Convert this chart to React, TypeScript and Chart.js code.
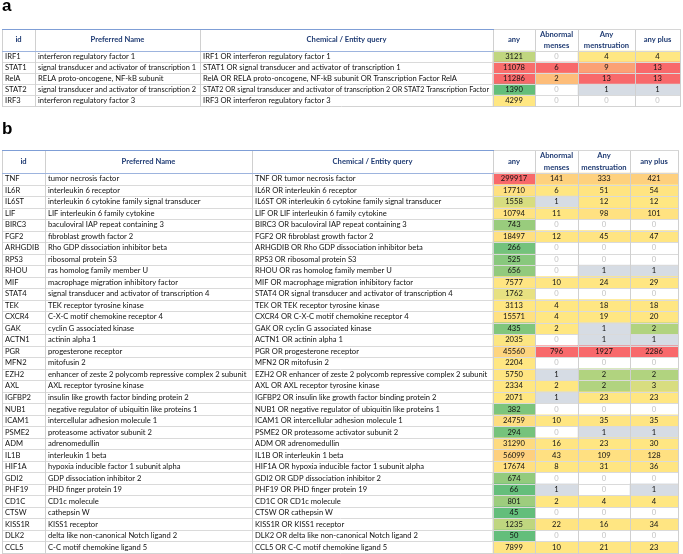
import React, { useEffect, useRef } from 'react';
import { Chart, registerables } from 'chart.js';

Chart.register(...registerables);

// ---------------- Data: table a ----------------
const idsA = ['IRF1', 'STAT1', 'RelA', 'STAT2', 'IRF3'];
const namesA = [
  'interferon regulatory factor 1',
  'signal transducer and activator of transcription 1',
  'RELA proto-oncogene, NF-kB subunit',
  'signal transducer and activator of transcription 2',
  'interferon regulatory factor 3',
];
const queriesA = [
  'IRF1 OR interferon regulatory factor 1',
  'STAT1 OR signal transducer and activator of transcription 1',
  'RelA OR RELA proto-oncogene, NF-kB subunit OR Transcription Factor RelA',
  'STAT2 OR signal transducer and activator of transcription 2 OR STAT2 Transcription Factor',
  'IRF3 OR interferon regulatory factor 3',
];
const anyA = [3121, 11078, 11286, 1390, 4299];
const abnormalMensesA = [0, 6, 2, 0, 0];
const anyMenstruationA = [4, 9, 13, 1, 0];
const anyPlusA = [4, 13, 13, 1, 0];

// ---------------- Data: table b ----------------
const idsB = [
  'TNF', 'IL6R', 'IL6ST', 'LIF', 'BIRC3', 'FGF2', 'ARHGDIB', 'RPS3', 'RHOU', 'MIF', 'STAT4',
  'TEK', 'CXCR4', 'GAK', 'ACTN1', 'PGR', 'MFN2', 'EZH2', 'AXL', 'IGFBP2', 'NUB1', 'ICAM1',
  'PSME2', 'ADM', 'IL1B', 'HIF1A', 'GDI2', 'PHF19', 'CD1C', 'CTSW', 'KISS1R', 'DLK2', 'CCL5',
];
const namesB = [
  'tumor necrosis factor',
  'interleukin 6 receptor',
  'interleukin 6 cytokine family signal transducer',
  'LIF interleukin 6 family cytokine',
  'baculoviral IAP repeat containing 3',
  'fibroblast growth factor 2',
  'Rho GDP dissociation inhibitor beta',
  'ribosomal protein S3',
  'ras homolog family member U',
  'macrophage migration inhibitory factor',
  'signal transducer and activator of transcription 4',
  'TEK receptor tyrosine kinase',
  'C-X-C motif chemokine receptor 4',
  'cyclin G associated kinase',
  'actinin alpha 1',
  'progesterone receptor',
  'mitofusin 2',
  'enhancer of zeste 2 polycomb repressive complex 2 subunit',
  'AXL receptor tyrosine kinase',
  'insulin like growth factor binding protein 2',
  'negative regulator of ubiquitin like proteins 1',
  'intercellular adhesion molecule 1',
  'proteasome activator subunit 2',
  'adrenomedullin',
  'interleukin 1 beta',
  'hypoxia inducible factor 1 subunit alpha',
  'GDP dissociation inhibitor 2',
  'PHD finger protein 19',
  'CD1c molecule',
  'cathepsin W',
  'KISS1 receptor',
  'delta like non-canonical Notch ligand 2',
  'C-C motif chemokine ligand 5',
];
const queriesB = idsB.map((id, i) => `${id} OR ${namesB[i]}`);
const anyB = [
  299917, 17710, 1558, 10794, 743, 18497, 266, 525, 656, 7577, 1762,
  3113, 15571, 435, 2035, 45560, 2204, 5750, 2334, 2071, 382, 24759,
  294, 31290, 56099, 17674, 674, 66, 801, 45, 1235, 50, 7899,
];
const abnormalMensesB = [
  141, 6, 1, 11, 0, 12, 0, 0, 0, 10, 0,
  4, 4, 2, 0, 796, 0, 1, 2, 1, 0, 10,
  0, 16, 43, 8, 0, 1, 2, 0, 22, 0, 10,
];
const anyMenstruationB = [
  333, 51, 12, 98, 0, 45, 0, 0, 1, 24, 0,
  18, 19, 1, 1, 1927, 0, 2, 2, 23, 0, 35,
  1, 23, 109, 31, 0, 0, 4, 0, 16, 0, 21,
];
const anyPlusB = [
  421, 54, 12, 101, 0, 47, 0, 0, 1, 29, 0,
  18, 20, 2, 1, 2286, 0, 2, 3, 23, 0, 35,
  1, 30, 128, 36, 0, 1, 4, 0, 34, 0, 23,
];

const columnHeaders = [
  ['id'],
  ['Preferred Name'],
  ['Chemical / Entity query'],
  ['any'],
  ['Abnormal', 'menses'],
  ['Any', 'menstruation'],
  ['any plus'],
];

// ---------------- Layout / style ----------------
const HEADER_UNITS = 2;
const TEXT_FONT = 'Lato, "Noto Sans", sans-serif';
const TEXT_SIZE = 7.6;
const HEADER_COLOR = '#1F3B73';
const GREEN = [99, 190, 123];
const YELLOW = [255, 231, 130];
const RED = [248, 105, 107];
const ONE_FILL = '#D6DCE4';
const ZERO_TEXT = '#C4C4C4';

type TableDef = {
  title: string;
  ids: string[];
  names: string[];
  queries: string[];
  counts: number[][];
  edges: number[];
};

const tableA: TableDef = {
  title: 'a',
  ids: idsA,
  names: namesA,
  queries: queriesA,
  counts: [anyA, abnormalMensesA, anyMenstruationA, anyPlusA],
  edges: [0, 33, 198, 491, 533, 576, 633, 678],
};
const tableB: TableDef = {
  title: 'b',
  ids: idsB,
  names: namesB,
  queries: queriesB,
  counts: [anyB, abnormalMensesB, anyMenstruationB, anyPlusB],
  edges: [0, 43, 250, 491, 533, 576, 628, 676],
};

function lerp(a: number[], b: number[], t: number) {
  const c = a.map((v, i) => Math.round(v + (b[i] - v) * t));
  return `rgb(${c[0]},${c[1]},${c[2]})`;
}

// Excel-like 3-colour scale (min green, median yellow, max red)
function cellColor(values: number[], v: number, isCount: boolean): string {
  if (isCount && v === 0) return 'rgba(255,255,255,0)';
  if (isCount && v === 1) return ONE_FILL;
  const s = [...values].sort((a, b) => a - b);
  const min = s[0];
  const max = s[s.length - 1];
  const pos = (s.length - 1) * 0.5;
  const lo = Math.floor(pos);
  const mid = s[lo] + (s[Math.ceil(pos)] - s[lo]) * (pos - lo);
  if (v <= mid) {
    const t = mid === min ? 1 : (v - min) / (mid - min);
    return lerp(GREEN, YELLOW, t);
  }
  const t = max === mid ? 0 : (v - mid) / (max - mid);
  return lerp(YELLOW, RED, t);
}

const tablePlugin = {
  id: 'tableCells',
  afterDatasetsDraw(chart: any, _args: any, opts: any) {
    const t: TableDef = opts.table;
    if (!t) return;
    const ctx: CanvasRenderingContext2D = chart.ctx;
    const xs = chart.scales.x;
    const ys = chart.scales.y;
    const X = (v: number) => xs.getPixelForValue(v);
    const Y = (v: number) => ys.getPixelForValue(v);
    const n = t.ids.length;
    const e = t.edges;
    const crisp = (p: number) => Math.round(p) + 0.5;

    ctx.save();
    ctx.lineWidth = 1;
    const hline = (u: number, x0: number, x1: number, color: string) => {
      ctx.strokeStyle = color;
      ctx.beginPath();
      const y = crisp(Y(u));
      ctx.moveTo(X(x0), y);
      ctx.lineTo(X(x1) + 1, y);
      ctx.stroke();
    };
    const vline = (xv: number, color: string) => {
      ctx.strokeStyle = color;
      ctx.beginPath();
      const x = crisp(X(xv));
      ctx.moveTo(x, Y(0));
      ctx.lineTo(x, Y(HEADER_UNITS + n) + 1);
      ctx.stroke();
    };

    for (let i = 1; i < n; i++) hline(HEADER_UNITS + i, e[0], e[7], '#DADADA');
    hline(HEADER_UNITS + n, e[0], e[7], '#D3D3D3');
    for (let k = 0; k < e.length; k++) vline(e[k], '#D0D0D0');
    hline(0, e[3], e[7], '#D6D6D6');
    hline(HEADER_UNITS, e[3], e[7], '#D6D6D6');
    hline(0, e[0], e[3], '#7F9ED6');
    hline(HEADER_UNITS, e[0], e[3], '#9DB4DE');

    // header text
    ctx.textBaseline = 'middle';
    ctx.textAlign = 'center';
    ctx.fillStyle = HEADER_COLOR;
    ctx.font = `bold ${TEXT_SIZE}px ${TEXT_FONT}`;
    const hc = Y(HEADER_UNITS / 2);
    columnHeaders.forEach((lines, c) => {
      const cx = (X(e[c]) + X(e[c + 1])) / 2;
      const gap = 11.5;
      lines.forEach((ln, j) => {
        const y = hc + (j - (lines.length - 1) / 2) * gap;
        ctx.fillText(ln, cx, y);
      });
    });

    // body text
    ctx.font = `${TEXT_SIZE}px ${TEXT_FONT}`;
    const colW = (c: number) => X(e[c + 1]) - X(e[c]) - 7;
    for (let i = 0; i < n; i++) {
      const yc = Y(HEADER_UNITS + i + 0.5);
      ctx.textAlign = 'left';
      ctx.fillStyle = '#111';
      ctx.fillText(t.ids[i], X(e[0]) + 3, yc, colW(0));
      ctx.fillText(t.names[i], X(e[1]) + 3, yc, colW(1));
      ctx.fillText(t.queries[i], X(e[2]) + 3, yc, colW(2));
      ctx.textAlign = 'center';
      t.counts.forEach((col, c) => {
        const v = col[i];
        ctx.fillStyle = c > 0 && v === 0 ? ZERO_TEXT : '#111';
        ctx.fillText(String(v), (X(e[3 + c]) + X(e[4 + c])) / 2, yc);
      });
    }
    ctx.restore();
  },
};

function makeConfig(
  t: TableDef,
  titlePad: { top: number; bottom: number },
  padBottom: number,
  padRight: number,
): any {
  const n = t.ids.length;
  const datasets = t.counts.map((col, c) => ({
    label: columnHeaders[3 + c].join(' '),
    data: t.ids.map((_, i) => ({ y: HEADER_UNITS + i + 0.5, x: [t.edges[3 + c], t.edges[4 + c]] })),
    backgroundColor: col.map((v) => cellColor(col, v, c > 0)),
    borderWidth: 0,
    grouped: false,
    barPercentage: 1,
    categoryPercentage: 1,
  }));
  return {
    type: 'bar',
    data: { datasets },
    options: {
      indexAxis: 'y',
      animation: false,
      responsive: false,
      events: [],
      layout: { padding: { left: 2, right: padRight, top: 0, bottom: padBottom } },
      scales: {
        x: { type: 'linear', min: 0, max: t.edges[t.edges.length - 1], display: false, offset: false },
        y: {
          type: 'linear',
          min: 0,
          max: HEADER_UNITS + n,
          reverse: true,
          display: false,
          offset: false,
          grid: { offset: false },
          ticks: { stepSize: 1 },
        },
      },
      plugins: {
        legend: { display: false },
        tooltip: { enabled: false },
        title: {
          display: true,
          text: t.title,
          align: 'start',
          color: '#000',
          font: { family: '"Liberation Sans", Arial, sans-serif', size: 17, weight: 'bold', lineHeight: 0.8 },
          padding: titlePad,
        },
        tableCells: { table: t },
      },
    },
    plugins: [tablePlugin],
  };
}

function TableChart(props: {
  table: TableDef;
  top: number;
  height: number;
  titlePad: { top: number; bottom: number };
  padBottom: number;
  padRight: number;
}) {
  const ref = useRef<HTMLCanvasElement>(null);
  useEffect(() => {
    const chart = new Chart(
      ref.current as HTMLCanvasElement,
      makeConfig(props.table, props.titlePad, props.padBottom, props.padRight),
    );
    return () => chart.destroy();
  }, []);
  return (
    <canvas
      ref={ref}
      width={683}
      height={props.height}
      style={{ position: 'absolute', left: 0, top: props.top, display: 'block', width: 683, height: props.height }}
    />
  );
}

export default function App() {
  return (
    <div style={{ position: 'absolute', left: 0, top: 0, width: 683, height: 554, background: '#fff', overflow: 'hidden' }}>
      <TableChart table={tableA} top={0} height={110} titlePad={{ top: 0, bottom: 15.4 }} padBottom={4} padRight={3} />
      <TableChart table={tableB} top={110} height={444} titlePad={{ top: 12.2, bottom: 14.2 }} padBottom={1} padRight={5} />
    </div>
  );
}
